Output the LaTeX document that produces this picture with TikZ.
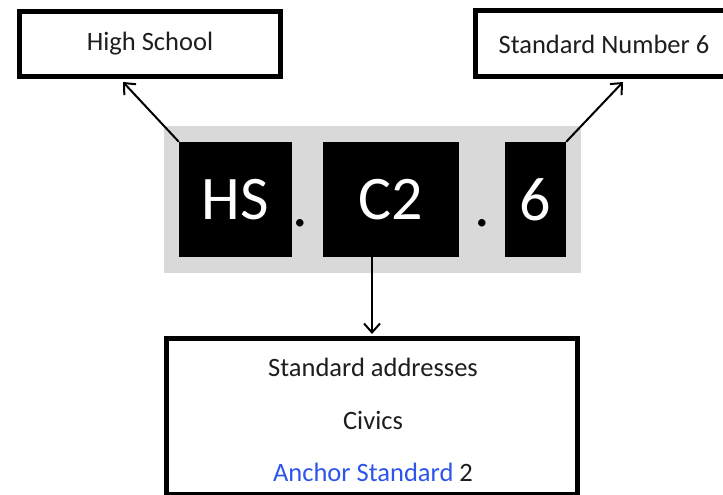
\documentclass[tikz,border=0pt]{standalone}
\usepackage{fontspec}
\setmainfont{Carlito}
\usetikzlibrary{arrows.meta}
\definecolor{bggray}{RGB}{217,217,217}
\definecolor{linkblue}{RGB}{45,85,235}
\definecolor{txt}{RGB}{30,30,30}
\tikzset{
  labelbox/.style={draw=black, line width=5pt, fill=white, inner sep=0pt, font=\fontsize{26.5}{30}\selectfont, text=txt},
  codebox/.style={fill=black, inner sep=0pt, text=white, font=\fontsize{62}{72}\selectfont},
  dotmark/.style={inner sep=0pt, font=\fontsize{62}{72}\selectfont},
  linetext/.style={inner sep=0pt, font=\fontsize{26.5}{30}\selectfont, text=txt},
  pointer/.style={line width=2pt, -{Straight Barb[length=9pt,width=16pt,line width=2pt]}}
}
\begin{document}
\begin{tikzpicture}[x=1pt,y=-1pt]
\useasboundingbox (0,0) rectangle (723,495);
% label boxes
\node[labelbox, minimum width=261pt, minimum height=65pt] (hsch) at (150,44) {High School};
\node[labelbox, minimum width=256pt, minimum height=66pt] (snum) at (603.5,43.5) {};
\node[linetext] (snumtext) at (604,44) {Standard Number 6};
% code band
\node[fill=bggray, minimum width=417pt, minimum height=147pt, inner sep=0pt] (band) at (372.5,199.5) {};
\node[codebox, minimum width=113pt, minimum height=115pt] (hs) at (235.5,199.5) {HS};
\node[codebox, minimum width=136pt, minimum height=115pt] (c2) at (391,199.5) {C2};
\node[codebox, minimum width=61pt, minimum height=115pt] (six) at (535.5,199.5) {6};
\node[dotmark, anchor=base] (dota) at (300.5,226) {.};
\node[dotmark, anchor=base] (dotb) at (482.5,226) {.};
% bottom box
\node[labelbox, minimum width=411pt, minimum height=156pt] (bot) at (372,416.5) {};
\node[linetext] (l1) at (373,367) {Standard addresses};
\node[linetext] (l2) at (373,420) {Civics};
\node[linetext] (l3) at (373,472) {\textcolor{linkblue}{Anchor Standard} 2};
% arrows
\draw[pointer] (hs.north west) -- ([xshift=-27pt,yshift=-3pt]hsch.south);
\draw[pointer] (six.north east) -- ([xshift=19.5pt,yshift=-3pt]snum.south);
\draw[pointer] (bot.north |- c2.south) -- ([yshift=2pt]bot.north);
\end{tikzpicture}
\end{document}
